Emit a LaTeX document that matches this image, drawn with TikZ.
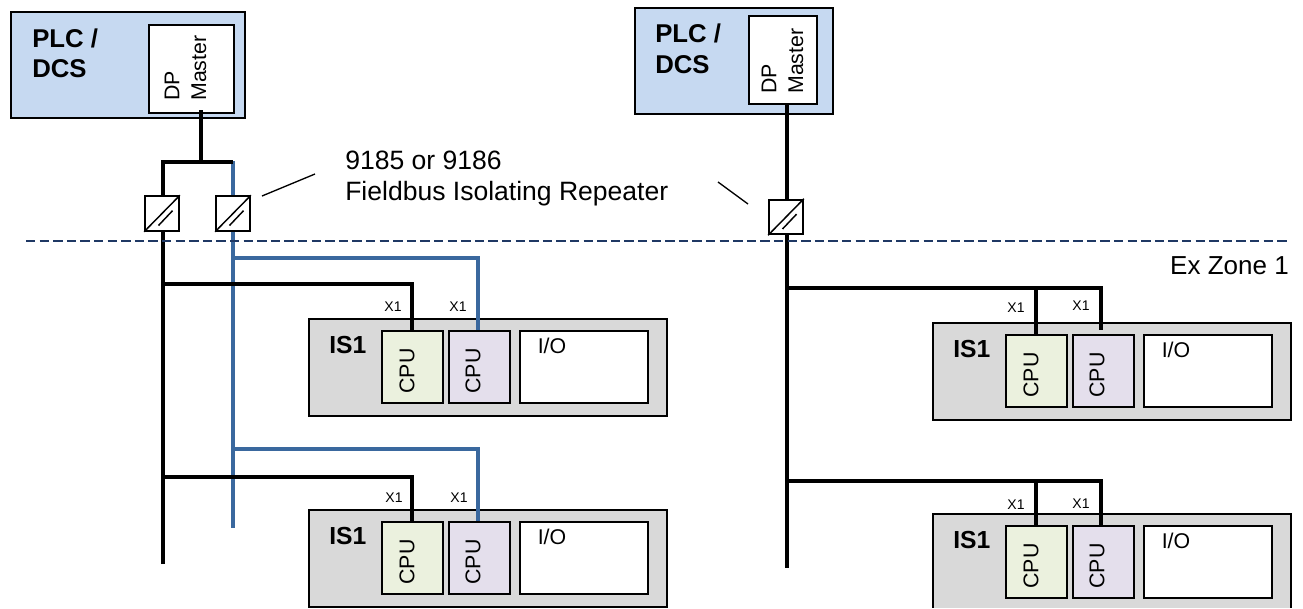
\documentclass[tikz,border=0pt]{standalone}
\usepackage{fontspec}
\setmainfont{Liberation Sans}
\usetikzlibrary{calc}
\definecolor{plcblue}{HTML}{C6D9F1}
\definecolor{busblue}{HTML}{3A689E}
\definecolor{zonenavy}{HTML}{1F3864}
\definecolor{isgray}{HTML}{D9D9D9}
\definecolor{cpugreen}{HTML}{EBF1DE}
\definecolor{cpuviolet}{HTML}{E4DFEC}
\tikzset{
  x=0.75pt,y=-0.75pt,
  outer/.style={draw=black,line width=1.6pt,inner sep=0,anchor=north west},
  plcbox/.style={outer,fill=plcblue,minimum height=79.5pt},
  dpbox/.style={outer,fill=white,line width=1.3pt},
  isbox/.style={outer,fill=isgray,minimum width=268.5pt,minimum height=72.75pt,line width=1.5pt},
  cpubox/.style={outer,minimum width=45.75pt,minimum height=54pt,line width=1.4pt},
  iobox/.style={outer,fill=white,minimum width=96pt,minimum height=54pt,line width=1.4pt},
  repbox/.style={draw=black,fill=white,line width=1.4pt,minimum width=25.5pt,minimum height=26pt,inner sep=0},
  bus/.style={line width=3pt,black},
  busb/.style={line width=3pt,busblue},
  lead/.style={line width=1pt,black},
  txt/.style={font=\fontsize{16pt}{18pt}\selectfont,inner sep=0},
  ltxt/.style={font=\fontsize{19.9pt}{22pt}\selectfont,inner sep=0},
  btxt/.style={font=\fontsize{19.3pt}{22pt}\selectfont\bfseries,inner sep=0,anchor=west},
  ibtxt/.style={font=\fontsize{18.5pt}{22pt}\selectfont\bfseries,inner sep=0,anchor=west},
  rtxt/.style={txt,rotate=90,anchor=west},
  small/.style={font=\fontsize{10.5pt}{12pt}\selectfont,inner sep=0},
}
\newcommand{\isunit}[3]{%
  \node[isbox] (#1) at (#2,#3) {};
  \node[cpubox,fill=cpugreen] (#1a) at ($(#2,#3)+(73,12)$) {};
  \node[cpubox,fill=cpuviolet] (#1b) at ($(#2,#3)+(140,12)$) {};
  \node[iobox] (#1c) at ($(#2,#3)+(211,12)$) {};
  \node[ibtxt] (#1t) at ($(#2,#3)+(21,27)$) {IS1};
  \node[txt,rotate=90] (#1u) at ($(#2,#3)+(99,53)$) {CPU};
  \node[txt,rotate=90] (#1v) at ($(#2,#3)+(165,53)$) {CPU};
  \node[txt] (#1w) at ($(#2,#3)+(244,28)$) {I/O};
}
\newcommand{\repsym}[1]{%
  \draw[line width=1.1pt] (#1.south west) -- (#1.north east);
  \draw[line width=1.1pt] ($(#1.center)+(-3.5,12)$) -- ($(#1.center)+(10.5,-2.8)$);
}
\begin{document}
\begin{tikzpicture}
\useasboundingbox (0,0) rectangle (1303,608);
\clip (0,0) rectangle (1303,607);
% PLC boxes
\node[plcbox,minimum width=175.5pt] (plcA) at (10,11) {};
\node[dpbox,minimum width=64pt,minimum height=66pt] (dpA) at (148,24) {};
\node[btxt] (plcAa) at (32,38) {PLC /};
\node[btxt] (plcAb) at (32,69) {DCS};
\node[rtxt] (dpAa) at (172,101) {DP};
\node[rtxt] (dpAb) at (199,101) {Master};
\node[plcbox,minimum width=148.5pt] (plcB) at (634,7) {};
\node[dpbox,minimum width=51pt,minimum height=66pt] (dpB) at (748,15) {};
\node[btxt] (plcBa) at (655,33) {PLC /};
\node[btxt] (plcBb) at (655,64.5) {DCS};
\node[rtxt] (dpBa) at (769,94) {DP};
\node[rtxt] (dpBb) at (796,94) {Master};
% IS1 units
\isunit{ia}{308}{318}
\isunit{ib}{308}{509}
\isunit{ic}{932}{322}
\isunit{id}{932}{513}
% bus junctions
\coordinate (topA) at (201,110);
\coordinate (splitA) at (201,162);
\coordinate (splitL) at (163,162);
\coordinate (splitR) at (233,162);
\coordinate (endL) at (163,564);
\coordinate (endR) at (233,528);
\coordinate (blkA) at (163,284);
\coordinate (blkB) at (163,477);
\coordinate (bluA) at (233,258);
\coordinate (bluB) at (233,449);
\coordinate (topB) at (787,103);
\coordinate (endB) at (787,568);
\coordinate (blkC) at (787,288);
\coordinate (blkD) at (787,481);
% buses
\draw[busb] ($(splitR)+(0,-1)$) -- (endR);
\draw[bus] (endL) -- (splitL) -- (splitR);
\draw[bus] (topA) -- (splitA);
\draw[bus] (topB) -- (endB);
% branches
\draw[bus] (blkA) -| ($(ia.north west)+(104,12)$);
\draw[bus] (blkB) -| ($(ib.north west)+(104,12)$);
\draw[busb] (bluA) -| ($(ia.north west)+(170,12)$);
\draw[busb] (bluB) -| ($(ib.north west)+(170,12)$);
\draw[bus] (blkC) -| ($(ic.north west)+(104,12)$);
\draw[bus] (blkD) -| ($(id.north west)+(104,12)$);
\draw[bus] ($(ic.north west)+(104,-34)$) -| ($(ic.north west)+(169,8)$);
\draw[bus] ($(id.north west)+(104,-32)$) -| ($(id.north west)+(169,12)$);
% repeaters
\node[repbox] (rA) at (162,213.5) {};
\node[repbox] (rB) at (233,213.5) {};
\node[repbox] (rC) at (786,217) {};
\repsym{rA}\repsym{rB}\repsym{rC}
% zone line
\coordinate (zl) at (26,241);
\coordinate (zr) at (1288,241);
\draw[zonenavy,line width=1.2pt,dash pattern=on 7pt off 3.2pt] (zl) -- (zr);
% leader lines and labels
\coordinate (la) at (262,196);
\coordinate (lb) at (315,174);
\coordinate (lc) at (718,182);
\coordinate (ld) at (748,204);
\draw[lead] (la) -- (lb);
\draw[lead] (lc) -- (ld);
\node[ltxt,anchor=west] (lab1) at (345,160) {9185 or 9186};
\node[ltxt,anchor=west] (lab2) at (345,194) {Fieldbus Isolating Repeater};
\node[ltxt,anchor=east,font=\fontsize{19.5pt}{22pt}\selectfont] (zone) at (1289,266) {Ex Zone 1};
% X1
\node[small] (xa) at (393,307) {X1};
\node[small] (xb) at (458,307) {X1};
\node[small] (xc) at (394,498) {X1};
\node[small] (xd) at (459,498) {X1};
\node[small] (xe) at (1016,308) {X1};
\node[small] (xf) at (1081,306) {X1};
\node[small] (xg) at (1016,505) {X1};
\node[small] (xh) at (1081,504) {X1};
\end{tikzpicture}
\end{document}
